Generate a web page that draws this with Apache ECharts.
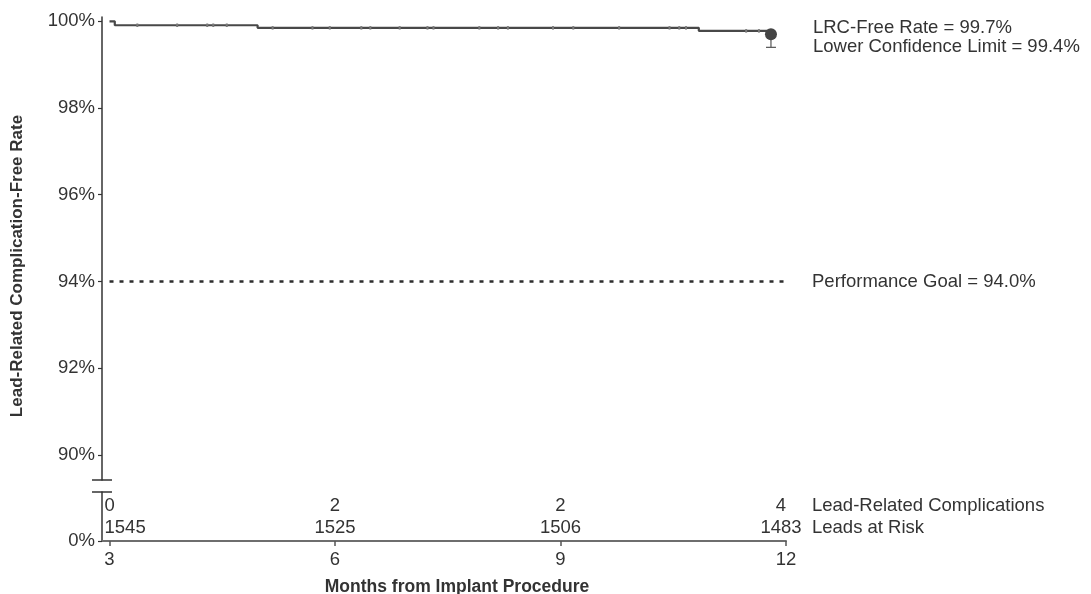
<!DOCTYPE html>
<html><head><meta charset="utf-8">
<script src="https://cdn.jsdelivr.net/npm/echarts@6/dist/echarts.min.js"></script>
<style>html,body{margin:0;padding:0;background:#fff}#c{width:1091px;height:594px}</style>
</head><body><div id="c"></div>
<script>
// ---- data ----
const monthTicks = [3, 6, 9, 12];
const complications = [0, 2, 2, 4];
const leadsAtRisk = [1545, 1525, 1506, 1483];
const rowTitles = ['Lead-Related Complications', 'Leads at Risk'];
const yTicks = [90, 92, 94, 96, 98, 100];
const kmTimes = [3, 3.07, 4.97, 10.84, 11.8];
const kmRates = [100, 99.91, 99.85, 99.78, 99.78];
const censorTimes = [3.37, 3.90, 4.30, 4.38, 4.56, 5.17, 5.70, 5.93, 6.35, 6.47, 6.86, 7.23, 7.31, 7.92, 8.17, 8.30, 8.90, 9.17, 9.78, 10.45, 10.58, 10.67, 11.47, 11.64];
const estTime = 11.8;
const freeRate = 99.7;
const lowerCL = 99.4;
const goalRate = 94.0;
const goalSpan = [3, 12];

// ---- layout constants ----
const FONT = '"Liberation Sans", Arial, sans-serif';
const TXT = '#333333';
const FS = 18.5;
const W = 1091, H = 594;
const LEFT = 102, RIGHT = 305;
const G1_TOP = 17, G1_BOTTOM = 114;   // upper panel
const G2_TOP = 492, G2_BOTTOM = 53;   // lower panel (risk table)
const ROW_Y = [0.714, 0.265];

function rateAt(t) {
  let r = kmRates[0];
  for (let i = 0; i < kmTimes.length; i++) if (kmTimes[i] <= t) r = kmRates[i];
  return r;
}

const chart = echarts.init(document.getElementById('c'), null, {renderer: 'canvas'});

const tableData = [];
monthTicks.forEach((m, i) => {
  [complications[i], leadsAtRisk[i]].forEach((v, r) => {
    const item = {value: [m, ROW_Y[r], v]};
    if (i === 0) item.label = {align: 'left', offset: [-5, 0]};
    if (i === monthTicks.length - 1) item.label = {offset: [-5, 0]};
    tableData.push(item);
  });
});

const labelBase = {fontSize: FS, color: TXT, fontFamily: FONT, opacity: 1};

const option = {
  animation: false,
  backgroundColor: '#ffffff',
  textStyle: {fontFamily: FONT, color: TXT},
  grid: [
    {left: LEFT, right: RIGHT, top: G1_TOP, bottom: G1_BOTTOM},
    {left: LEFT, right: RIGHT, top: G2_TOP, bottom: G2_BOTTOM}
  ],
  xAxis: [
    {gridIndex: 0, type: 'value', min: 2.9, max: 12, show: false},
    {gridIndex: 1, type: 'value', min: 2.9, max: 12,
     axisLine: {show: true, lineStyle: {color: '#6e6e6e', width: 2}},
     axisTick: {show: true, customValues: monthTicks, length: 5, lineStyle: {color: '#555', width: 1.5}},
     axisLabel: {customValues: monthTicks, fontSize: FS, color: TXT, margin: 9, fontFamily: FONT},
     splitLine: {show: false}}
  ],
  yAxis: [
    {gridIndex: 0, type: 'value', min: 89.42, max: 100.1,
     axisLine: {show: true, lineStyle: {color: '#333', width: 1.5}},
     axisTick: {show: true, customValues: yTicks, length: 4, lineStyle: {color: '#333', width: 1.2}},
     axisLabel: {customValues: yTicks, formatter: v => v + '%', fontSize: FS, color: TXT, margin: 7, fontFamily: FONT},
     splitLine: {show: false}},
    {gridIndex: 1, type: 'value', min: 0, max: 1,
     axisLine: {show: true, lineStyle: {color: '#333', width: 1.5}},
     axisTick: {show: true, customValues: [0], length: 4, lineStyle: {color: '#333', width: 1.2}},
     axisLabel: {customValues: [0], formatter: v => v + '%', fontSize: FS, color: TXT, margin: 7, fontFamily: FONT},
     splitLine: {show: false}}
  ],
  series: [
    {name: 'KM', type: 'line', xAxisIndex: 0, yAxisIndex: 0, step: 'end', symbol: 'none',
     data: kmTimes.map((t, i) => [t, kmRates[i]]),
     lineStyle: {color: '#484848', width: 2.2}, z: 3},
    {name: 'Censored', type: 'scatter', xAxisIndex: 0, yAxisIndex: 0,
     symbol: 'rect', symbolSize: [2, 3.5],
     itemStyle: {color: '#7a7a7a', opacity: 1},
     data: censorTimes.map(t => [t, rateAt(t)]), z: 4},
    {name: 'Goal', type: 'line', xAxisIndex: 0, yAxisIndex: 0, symbol: 'none',
     data: goalSpan.map(t => [t, goalRate]),
     lineStyle: {color: '#2e2e2e', width: 2.5, type: [4, 6]},
     endLabel: Object.assign({show: true, formatter: () => 'Performance Goal = ' + goalRate.toFixed(1) + '%', distance: 26}, labelBase)},
    {name: 'CI', type: 'custom', xAxisIndex: 0, yAxisIndex: 0,
     data: [[estTime, freeRate, lowerCL]],
     renderItem: (params, api) => {
       const top = api.coord([api.value(0), api.value(1)]);
       const bot = api.coord([api.value(0), api.value(2)]);
       const style = {stroke: '#555', lineWidth: 1.2, fill: null};
       return {type: 'group', children: [
         {type: 'line', shape: {x1: top[0], y1: top[1], x2: bot[0], y2: bot[1]}, style},
         {type: 'line', shape: {x1: bot[0] - 5, y1: bot[1], x2: bot[0] + 5, y2: bot[1]}, style}
       ]};
     }, z: 4},
    {name: 'Estimate', type: 'scatter', xAxisIndex: 0, yAxisIndex: 0,
     symbol: 'circle', symbolSize: 12, itemStyle: {color: '#444444', opacity: 1},
     data: [[estTime, freeRate]],
     label: Object.assign({show: true, position: 'right', distance: 34, offset: [2, 3], lineHeight: 19,
             formatter: () => 'LRC-Free Rate = ' + freeRate.toFixed(1) + '%\nLower Confidence Limit = ' + lowerCL.toFixed(1) + '%'}, labelBase), z: 5},
    {name: 'Table', type: 'scatter', xAxisIndex: 1, yAxisIndex: 1, symbolSize: 0,
     itemStyle: {opacity: 1},
     data: tableData,
     label: Object.assign({show: true, position: 'inside', formatter: p => String(p.value[2])}, labelBase)},
    {name: 'RowTitles', type: 'scatter', xAxisIndex: 1, yAxisIndex: 1, symbolSize: 0,
     itemStyle: {opacity: 1},
     data: rowTitles.map((t, r) => ({value: [monthTicks[monthTicks.length - 1], ROW_Y[r]], name: t})),
     label: Object.assign({show: true, position: 'inside', align: 'left', offset: [26, 0], formatter: p => p.name}, labelBase)}
  ],
  graphic: [
    {type: 'line', shape: {x1: LEFT - 10, y1: H - G1_BOTTOM, x2: LEFT + 10, y2: H - G1_BOTTOM},
     style: {stroke: '#333', lineWidth: 1.5}},
    {type: 'line', shape: {x1: LEFT - 10, y1: G2_TOP, x2: LEFT + 10, y2: G2_TOP},
     style: {stroke: '#333', lineWidth: 1.5}},
    {type: 'text', x: 457, y: 587,
     style: {text: 'Months from Implant Procedure', font: 'bold 17.5px ' + FONT, fill: TXT, align: 'center', verticalAlign: 'middle'}},
    {type: 'text', x: 17, y: 266, rotation: Math.PI / 2,
     style: {text: 'Lead-Related Complication-Free Rate', font: 'bold 17px ' + FONT, fill: TXT, align: 'center', verticalAlign: 'middle'}}
  ]
};
chart.setOption(option);
</script>
</body></html>
